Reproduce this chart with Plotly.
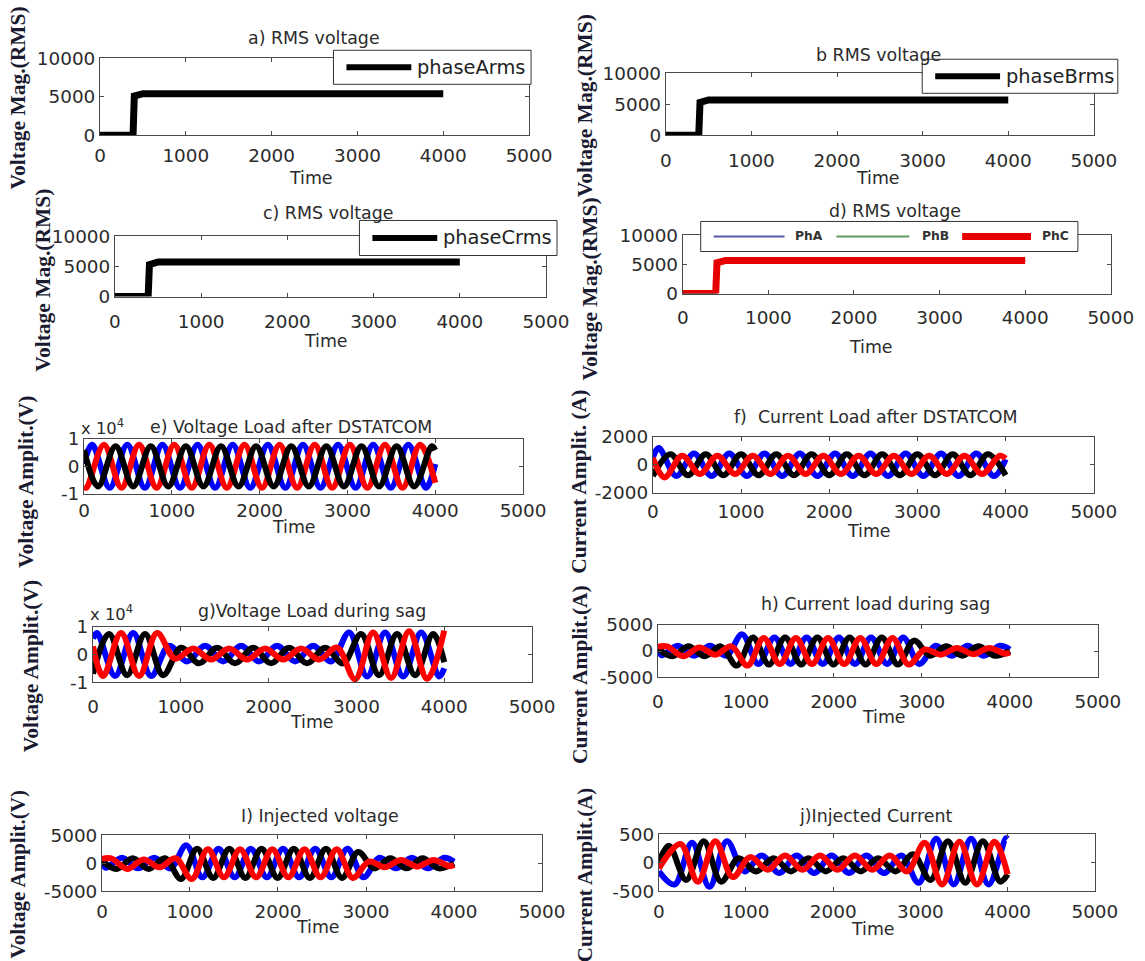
import plotly.graph_objects as go

# Layout is designed on a 1145 x 961 grid (GRID_*); the page keeps its
# default 8 px body margin and the captured frame is a little larger than
# the grid, so grid positions are stretched by 1 / FRAME_SCALE.
PAGE_MARGIN = 8
FRAME_SCALE = 0.977
FIG_W, FIG_H = 1156, 968
FS = 1 / FRAME_SCALE
T_END = 4000

# ---------------------------------------------------------------- data
# RMS voltage magnitude of each phase (V) against time (samples)
RMS_TIME = [0, 385, 400, 500, 4000]
RMS_PHASE_A = [0, 0, 5100, 5400, 5400]
RMS_PHASE_B = [0, 0, 5300, 5700, 5700]
RMS_PHASE_C = [0, 0, 5300, 5750, 5750]
RMS_D_PHA = [0, 0, 5300, 5700, 5700]
RMS_D_PHB = [0, 0, 5300, 5700, 5700]
RMS_D_PHC = [0, 0, 5300, 5700, 5700]

# Instantaneous waveforms stored as successive peak / trough values.
# *_FIRST: time of the first extremum, *_STEP: time between extrema,
# *_EDGE: values at t = 0 and t = 4000.

# e) load voltage after DSTATCOM (V)
E_STEP = 200
E_A_FIRST, E_A_EDGE = 93, (900, 850)
E_A = [7800, -7800, 7800, -7800, 7800, -7800, 7800, -7800, 7800, -7800,
       7800, -7800, 7800, -7800, 7800, -7800, 7800, -7800, 7800, -7800]
E_B_FIRST, E_B_EDGE = 160, (5900, 5900)
E_B = [-7300, 7300, -7300, 7300, -7300, 7300, -7300, 7300, -7300, 7300,
       -7300, 7300, -7300, 7300, -7300, 7300, -7300, 7300, -7300, 7300]
E_C_FIRST, E_C_EDGE = 27, (-7100, -6000)
E_C = [-7800, 7800, -7800, 7800, -7800, 7800, -7800, 7800, -7800, 7800,
       -7800, 7800, -7800, 7800, -7800, 7800, -7800, 7800, -7800, 7800]

# f) load current after DSTATCOM (A)
F_STEP = 200
F_A_FIRST, F_A_EDGE = 67, (500, 400)
F_A = [1200, -800, 800, -800, 800, -800, 800, -800, 800, -800,
       800, -800, 800, -800, 800, -800, 800, -800, 800, -800]
F_B_FIRST, F_B_EDGE = 200, (-800, -750)
F_B = [750, -750, 750, -750, 750, -750, 750, -750, 750, -750,
       750, -750, 750, -750, 750, -750, 750, -750, 750]
F_C_FIRST, F_C_EDGE = 133, (500, 450)
F_C = [-900, 650, -650, 650, -650, 650, -650, 650, -650, 650,
       -650, 650, -650, 650, -650, 650, -650, 650, -650, 650]

# g) load voltage during sag (V)
G_STEP = 205
G_A_FIRST, G_A_EDGE = 47, (5800, -5000)
G_A = [7800, -7800, 7800, -7800, 3200, -2500, 3200, -2500, 3200, -2500,
       3200, -2500, 3200, -2500, 8000, -8000, 8000, -8000, 8000, -8000]
G_B_FIRST, G_B_EDGE = 183, (-7000, -2800)
G_B = [7500, -7500, 7500, -7500, 2500, -3200, 2500, -3200, 2500, -3200,
       2500, -3200, 2500, -3200, 7500, -7500, 7500, -7500, 7500]
G_C_FIRST, G_C_EDGE = 115, (3000, 8700)
G_C = [-7800, 7800, -7800, 7800, -1500, 2200, -1800, 2200, -1800, 2200,
       -1800, 2200, -1800, 2500, -9000, 8000, -8500, 8500, -8800]

# h) load current during sag (A)
H_STEP = 183
H_A_FIRST, H_A_EDGE = 44, (300, 300)
H_A = [-800, 1000, -900, 1000, -900, 3200, -2500, 2600, -2500, 2600, -2500,
       2600, -2500, 2600, -2500, 2600, -2500, 1000, -900, 1000, -900, 1000]
H_B_FIRST, H_B_EDGE = 166, (500, 0)
H_B = [-1000, 900, -1000, 900, -2800, 2600, -2600, 2600, -2600, 2600, -2600,
       2600, -2600, 2600, -2600, 2000, -900, 900, -900, 900, -900]
H_C_FIRST, H_C_EDGE = 105, (800, -300)
H_C = [900, -1000, 700, -700, 900, -2800, 2500, -2500, 2500, -2500, 2500,
       -2500, 2500, -2500, 2500, -2600, 300, -700, 600, -600, 600, -500]

# i) injected voltage (V)
I_STEP = 183
I_A_FIRST, I_A_EDGE = 44, (300, 300)
I_A = [-800, 1000, -900, 1000, -900, 3200, -2500, 2600, -2500, 2600, -2500,
       2600, -2500, 2600, -2500, 2600, -2500, 1000, -900, 1000, -900, 1000]
I_B_FIRST, I_B_EDGE = 166, (500, 0)
I_B = [-1000, 900, -1000, 900, -2800, 2600, -2600, 2600, -2600, 2600, -2600,
       2600, -2600, 2600, -2600, 2000, -900, 900, -900, 900, -900]
I_C_FIRST, I_C_EDGE = 105, (800, -300)
I_C = [900, -1000, 700, -700, 900, -2800, 2500, -2500, 2500, -2500, 2500,
       -2500, 2500, -2500, 2500, -2600, 300, -700, 600, -600, 600, -500]

# j) injected current (A)
J_STEP = 200
J_A_FIRST, J_A_EDGE = 181, (-150, 420)
J_A = [-380, 350, -420, 380, -150, 130, -180, 130, -180, 130,
       -180, 130, -180, 130, -350, 420, -380, 420, -380, 430]
J_B_FIRST, J_B_EDGE = 115, (0, -200)
J_B = [300, -300, 380, -330, 80, -150, 80, -150, 80, -150,
       80, -150, 80, -150, 150, -300, 380, -350, 380, -330]
J_C_FIRST, J_C_EDGE = 248, (-100, -200)
J_C = [330, -330, 380, -250, 100, -120, 130, -120, 130, -120,
       130, -120, 130, -150, 350, -380, 370, -380, 370]

X_TICKS = [0, 1000, 2000, 3000, 4000, 5000]

# ---------------------------------------------------------------- helpers
def px_x(p):
    """grid pixel -> paper x"""
    return (p / FRAME_SCALE - PAGE_MARGIN) / FIG_W


def px_y(p):
    """grid pixel -> paper y"""
    return 1 - (p / FRAME_SCALE - PAGE_MARGIN) / FIG_H


def fs(size):
    return round(size * FS, 1)


def wave(first, step, peaks, edge):
    t = [0] + [first + k * step for k in range(len(peaks))] + [T_END]
    v = [edge[0]] + list(peaks) + [edge[1]]
    return t, v


BLUE, BLACK, RED, GREEN = "#0000ff", "#000000", "#ff0000", "#2f8f2f"
AXIS_COLOR = "#4a4a4a"
TEXT_COLOR = "#2b2b2b"
SANS = "DejaVu Sans"
SERIF = "Liberation Serif"

fig = go.Figure()
layout_axes = {}
annotations = []
shapes = []


def add_axes(n, box, yrange, yticks, yticktext, xstandoff):
    x0, x1, y0, y1 = box
    common = dict(
        ticks="inside", ticklen=4, tickcolor=AXIS_COLOR, showline=True,
        linecolor=AXIS_COLOR, linewidth=1, mirror="allticks",
        showgrid=False, zeroline=False,
        tickfont=dict(family=SANS, size=fs(18), color=TEXT_COLOR),
    )
    sfx = "" if n == 1 else str(n)
    layout_axes["xaxis" + sfx] = dict(
        common, domain=[px_x(x0), px_x(x1)], range=[0, 5000],
        tickvals=X_TICKS, ticktext=[str(v) for v in X_TICKS],
        anchor="y" + sfx, ticklabelstandoff=xstandoff,
    )
    layout_axes["yaxis" + sfx] = dict(
        common, domain=[px_y(y1), px_y(y0)], range=yrange,
        tickvals=yticks, ticktext=yticktext, anchor="x" + sfx,
    )
    return "x" + sfx, "y" + sfx


def text(x, y, s, size=17, family=SANS, color=TEXT_COLOR, angle=0,
         xanchor="center"):
    annotations.append(dict(
        xref="paper", yref="paper", x=px_x(x), y=px_y(y), text=s,
        showarrow=False, textangle=angle, xanchor=xanchor, yanchor="middle",
        font=dict(family=family, size=fs(size), color=color),
    ))


def legend_frame(x0, y0, x1, y1):
    shapes.append(dict(
        type="rect", xref="paper", yref="paper", layer="above",
        x0=px_x(x0), x1=px_x(x1), y0=px_y(y1), y1=px_y(y0),
        fillcolor="white", line=dict(color="#333333", width=1),
    ))


def swatch(x0, x1, y, color, thick):
    shapes.append(dict(
        type="line", xref="paper", yref="paper", layer="above",
        x0=px_x(x0), x1=px_x(x1), y0=px_y(y), y1=px_y(y),
        line=dict(color=color, width=thick),
    ))


def ylabel(x, y, s, size=21):
    text(x, y, "<b>%s</b>" % s, size=size, family=SERIF, color="#1a1a30",
         angle=-90)


def add_wave(xa, ya, t, v, color, name):
    fig.add_trace(go.Scatter(
        x=t, y=v, mode="lines", name=name, xaxis=xa, yaxis=ya,
        line=dict(color=color, width=6, shape="spline", smoothing=1.0),
        hoverinfo="skip",
    ))


RMS_TICKS = [0, 5000, 10000]
RMS_TEXT = ["0", "5000", "10000"]

# ---------------------------------------------------------------- a) - c)
rms_panels = [
    (1, (102, 532, 55, 132), RMS_PHASE_A, "phaseArms", "a) RMS voltage",
     (316, 35), (313, 175), (20, 95), (336, 47, 534, 81), 4),
    (2, (669, 1098, 70, 132), RMS_PHASE_B, "phaseBrms", "b RMS voltage",
     (882, 52), (882, 175), (588, 102), (926, 56, 1122, 90), 9),
    (3, (117, 549, 233, 293), RMS_PHASE_C, "phaseCrms", "c) RMS voltage",
     (331, 210), (329, 337), (44, 277), (362, 217, 560, 252), 8),
]
for n, bx, vals, name, title, tpos, timepos, ylpos, lg, so in rms_panels:
    xa, ya = add_axes(n, bx, [0, 10000], RMS_TICKS, RMS_TEXT, so)
    fig.add_trace(go.Scatter(
        x=RMS_TIME, y=vals, mode="lines", name=name, xaxis=xa, yaxis=ya,
        line=dict(color=BLACK, width=7), hoverinfo="skip",
    ))
    text(tpos[0], tpos[1], title)
    text(timepos[0], timepos[1], "Time")
    ylabel(ylpos[0], ylpos[1], "Voltage Mag.(RMS)")
    lx0, ly0, lx1, ly1 = lg
    legend_frame(lx0, ly0, lx1, ly1)
    ymid = (ly0 + ly1) / 2
    swatch(lx0 + 13, lx0 + 78, ymid, BLACK, 6)
    text(lx0 + 82, ymid, name, size=19, color="#222222", xanchor="left")

# ---------------------------------------------------------------- d)
xa, ya = add_axes(4, (686, 1115, 232, 290), [0, 10000], RMS_TICKS, RMS_TEXT, 7)
for vals, color, width, name in [(RMS_D_PHA, BLUE, 1.5, "PhA"),
                                 (RMS_D_PHB, GREEN, 1.5, "PhB"),
                                 (RMS_D_PHC, "#e60000", 7, "PhC")]:
    fig.add_trace(go.Scatter(
        x=RMS_TIME, y=vals, mode="lines", name=name, xaxis=xa, yaxis=ya,
        line=dict(color=color, width=width), hoverinfo="skip",
    ))
text(899, 208, "d) RMS voltage")
text(875, 343, "Time")
ylabel(593, 285, "Voltage Mag.(RMS)")
legend_frame(704, 218, 1082, 248)
swatch(717, 788, 233, "#5a5aa8", 2)
text(797, 233, "<b>PhA</b>", size=12, color="#333333", xanchor="left")
swatch(840, 913, 233, "#5f9a5f", 2)
text(924, 233, "<b>PhB</b>", size=12, color="#333333", xanchor="left")
swatch(966, 1035, 233, "#e60000", 7)
text(1044, 233, "<b>PhC</b>", size=12, color="#333333", xanchor="left")

# ---------------------------------------------------------------- e) - j)
wave_panels = [
    (5, (86, 526, 435, 490), [-10000, 10000], [-10000, 0, 10000],
     ["-1", "0", "1"], 0,
     [(E_A_FIRST, E_STEP, E_A, E_A_EDGE, BLUE, "phase A"),
      (E_C_FIRST, E_STEP, E_C, E_C_EDGE, RED, "phase C"),
      (E_B_FIRST, E_STEP, E_B, E_B_EDGE, BLACK, "phase B")],
     "e) Voltage Load after DSTATCOM", (293, 423), (296, 523),
     (28, 478), "Voltage Amplit.(V)", (105, 423)),
    (6, (656, 1098, 433, 489), [-2000, 2000], [-2000, 0, 2000],
     ["-2000", "0", "2000"], 2,
     [(F_A_FIRST, F_STEP, F_A, F_A_EDGE, BLUE, "phase A"),
      (F_B_FIRST, F_STEP, F_B, F_B_EDGE, BLACK, "phase B"),
      (F_C_FIRST, F_STEP, F_C, F_C_EDGE, RED, "phase C")],
     "f)\u00a0 Current Load after DSTATCOM", (879, 413), (873, 527),
     (582, 478), "Current Amplit. (A)", None),
    (7, (95, 535, 623, 678), [-10000, 10000], [-10000, 0, 10000],
     ["-1", "0", "1"], 8,
     [(G_A_FIRST, G_STEP, G_A, G_A_EDGE, BLUE, "phase A"),
      (G_B_FIRST, G_STEP, G_B, G_B_EDGE, BLACK, "phase B"),
      (G_C_FIRST, G_STEP, G_C, G_C_EDGE, RED, "phase C")],
     "g)Voltage Load during sag", (314, 607), (314, 718),
     (33, 662), "Voltage Amplit.(V)", (114, 609)),
    (8, (661, 1102, 621, 673), [-5000, 5000], [-5000, 0, 5000],
     ["-5000", "0", "5000"], 8,
     [(H_A_FIRST, H_STEP, H_A, H_A_EDGE, BLUE, "phase A"),
      (H_B_FIRST, H_STEP, H_B, H_B_EDGE, BLACK, "phase B"),
      (H_C_FIRST, H_STEP, H_C, H_C_EDGE, RED, "phase C")],
     "h) Current load during sag", (879, 600), (888, 713),
     (583, 670), "Current Amplit.(A)", None),
    (9, (104, 545, 831, 887), [-5000, 5000], [-5000, 0, 5000],
     ["-5000", "0", "5000"], 4,
     [(I_A_FIRST, I_STEP, I_A, I_A_EDGE, BLUE, "phase A"),
      (I_B_FIRST, I_STEP, I_B, I_B_EDGE, BLACK, "phase B"),
      (I_C_FIRST, I_STEP, I_C, I_C_EDGE, RED, "phase C")],
     "I) Injected voltage", (322, 812), (320, 923),
     (20, 870), "Voltage Amplit.(V)", None),
    (10, (662, 1099, 830, 887), [-500, 500], [-500, 0, 500],
     ["-500", "0", "500"], 4,
     [(J_A_FIRST, J_STEP, J_A, J_A_EDGE, BLUE, "phase A"),
      (J_B_FIRST, J_STEP, J_B, J_B_EDGE, BLACK, "phase B"),
      (J_C_FIRST, J_STEP, J_C, J_C_EDGE, RED, "phase C")],
     "j)Injected Current", (879, 812), (877, 925),
     (588, 870), "Current Amplit.(A)", None),
]
for (n, bx, yr, yt, ytt, so, series, title, tpos, timepos, ylpos, ylab,
     expo) in wave_panels:
    xa, ya = add_axes(n, bx, yr, yt, ytt, so)
    for first, step, peaks, edge, color, name in series:
        t, v = wave(first, step, peaks, edge)
        add_wave(xa, ya, t, v, color, name)
    text(tpos[0], tpos[1], title)
    text(timepos[0], timepos[1], "Time")
    ylabel(ylpos[0], ylpos[1], ylab, size=20.5 if n >= 9 else 21)
    if expo:
        text(expo[0], expo[1], "x 10<sup>4</sup>", size=16)

fig.update_layout(
    width=FIG_W, height=FIG_H, autosize=False,
    margin=dict(l=0, r=0, t=0, b=0, pad=0),
    paper_bgcolor="white", plot_bgcolor="white",
    showlegend=False, annotations=annotations, shapes=shapes, **layout_axes,
)
fig.write_html("out.html")
